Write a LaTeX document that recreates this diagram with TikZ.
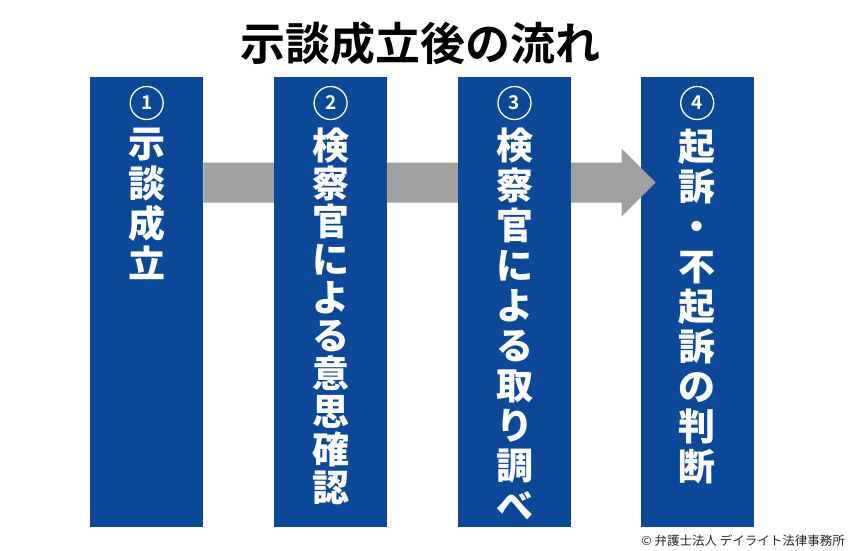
\documentclass[tikz,border=0pt]{standalone}
\usepackage{fontspec}
\usepackage{tikz}
\usepackage{xcolor}
\usetikzlibrary{positioning,calc}

\newfontfamily\jpfont{Noto Sans CJK JP}[BoldFont={Noto Sans CJK JP Bold}]
\newfontfamily\jpheavy{Noto Sans CJK JP Black}
\definecolor{colblue}{RGB}{12,72,152}
\definecolor{flowgray}{RGB}{160,160,160}

\begin{document}
\begin{tikzpicture}[
            x=1pt, y=-1pt,
            col/.style={rectangle, fill=colblue, minimum width=113pt,
                        minimum height=450pt, inner sep=0pt, anchor=north west},
            num/.style={circle, draw=white, line width=1.3pt, minimum size=33pt,
                        inner sep=0pt, text=white, font=\jpfont\bfseries\fontsize{19}{19}\selectfont},
            vtext/.style={align=center, inner sep=0pt, text=white, anchor=north,
                          font=\jpheavy\fontsize{37}{40}\selectfont},
            flow/.style={fill=flowgray}
        ]
            \useasboundingbox (0,0) rectangle (850,550);

            % Title
            \node[font=\jpfont\bfseries\fontsize{45}{45}\selectfont] (title) at (420,43) {示談成立後の流れ};

            % Columns (last one under the arrow)
            \node[col] (col1) at (90,77) {};
            \node[col] (col4) at (640.5,77) {};

            % Arrow
            \coordinate (a) at ([yshift=-105.5pt]col1.north east);
            \coordinate (b) at ($(col4.west |- a)+(15,0)$);
            \coordinate (h) at ($(b)+(-34,0)$);
            \fill[flow] ($(a)+(0,-20)$) -- ($(h)+(0,-20)$) -- ($(h)+(0,-34)$) -- (b)
                -- ($(h)+(0,34)$) -- ($(h)+(0,20)$) -- ($(a)+(0,20)$) -- cycle;

            \node[col, right=70.5pt of col1] (col2) {};
            \node[col, right=70.5pt of col2] (col3) {};

            % Numbers
            \node[num] (n1) at ([yshift=-26pt]col1.north) {1};
            \node[num] (n2) at ([yshift=-26pt]col2.north) {2};
            \node[num] (n3) at ([yshift=-26pt]col3.north) {3};
            \node[num] (n4) at ([yshift=-26pt]col4.north) {4};

            % Steps
            \node[vtext, below=51pt of col1.north] (t1) {示\\談\\成\\立};
            \node[vtext, below=51pt of col2.north, font=\jpheavy\fontsize{37}{38}\selectfont] (t2)
                {検\\察\\官\\に\\よ\\る\\意\\思\\確\\認};
            \node[vtext, below=51pt of col3.north] (t3) {検\\察\\官\\に\\よ\\る\\取\\り\\調\\べ};
            \node[vtext, below=52pt of col4.north] (t4) {起\\訴\\・\\不\\起\\訴\\の\\判\\断};

            % Credit
            \node[anchor=east, inner sep=0pt, text=black!85,
                  font=\jpfont\fontsize{12.5}{12.5}\selectfont] (credit) at (845,541) {© 弁護士法人 デイライト法律事務所};
        \end{tikzpicture}
\end{document}
